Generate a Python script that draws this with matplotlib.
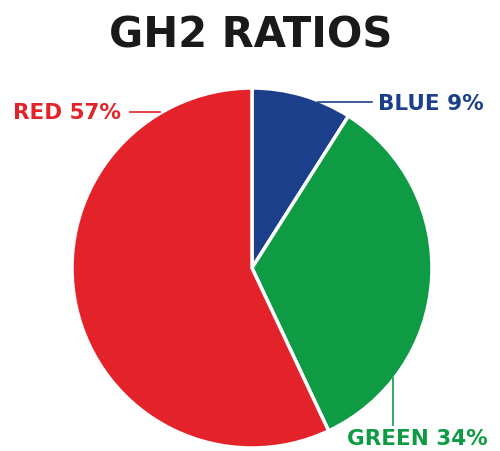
import matplotlib
matplotlib.use("Agg")
import matplotlib.pyplot as plt

title = "GH2 RATIOS"
categories = ["BLUE", "GREEN", "RED"]
values = [9, 34, 57]
colors = ["#1C3F8C", "#0F9A44", "#E42229"]

W, H = 500, 451
fig = plt.figure(figsize=(W / 100, H / 100), dpi=100)
ax = fig.add_axes([0, 0, 1, 1])

def py(y):
    return H - y

cx, cy, r = 252, py(268), 180
ax.pie(values, colors=colors, startangle=90, counterclock=False,
       center=(cx, cy), radius=r, frame=True,
       wedgeprops=dict(edgecolor="white", linewidth=2.5))
ax.set_xlim(0, W)
ax.set_ylim(0, H)
ax.set_aspect("equal")
ax.axis("off")

labels = [f"{c} {v}%" for c, v in zip(categories, values)]

fs = 15.5
fw = "bold"
# BLUE
ax.plot([318, 372], [py(102), py(102)], color=colors[0], lw=1.2, zorder=3)
ax.text(378, py(110), labels[0], color=colors[0], fontsize=fs, fontweight=fw,
        ha="left", va="baseline")
# GREEN
ax.plot([393, 393], [py(378), py(425)], color=colors[1], lw=1.2, zorder=3)
ax.text(347, py(445), labels[1], color=colors[1], fontsize=fs, fontweight=fw,
        ha="left", va="baseline")
# RED
ax.plot([130, 160], [py(112), py(112)], color=colors[2], lw=1.2, zorder=3)
ax.text(121, py(119), labels[2], color=colors[2], fontsize=fs, fontweight=fw,
        ha="right", va="baseline")

ax.text(251, py(47), title, color="#1a1a1a", fontsize=30, fontweight="bold",
        ha="center", va="baseline")

fig.savefig("out.png", dpi=100, facecolor="white")
